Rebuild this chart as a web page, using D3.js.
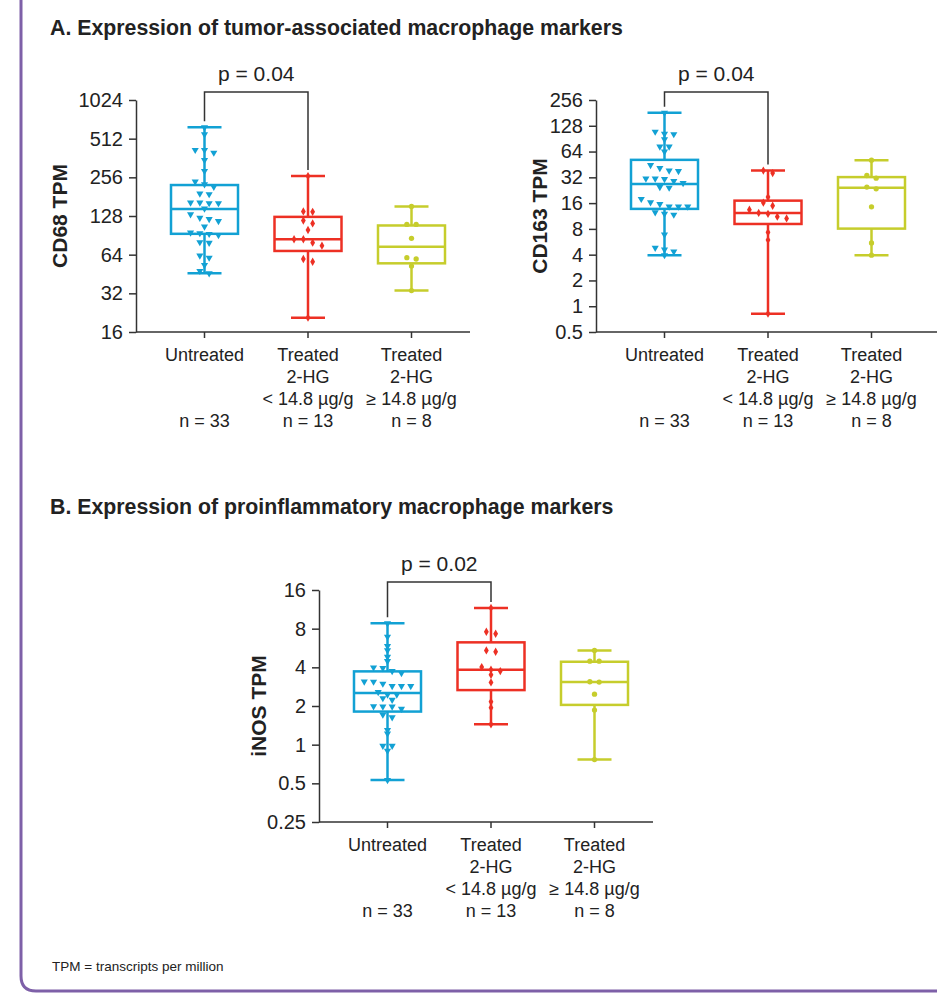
<!DOCTYPE html>
<html>
<head>
<meta charset="utf-8">
<script src="https://cdn.jsdelivr.net/npm/d3@7"></script>
<style>
  body { margin: 0; background: #fff; }
  svg text { font-family: "Liberation Sans", Arial, sans-serif; fill: #222; }
  .axis path, .axis line { stroke: #333; stroke-width: 1.5; }
  .axis text { font-size: 20px; fill: #222; }
</style>
</head>
<body>
<div id="chart"></div>
<script>
// Groups and their x labels
var groups = ["untreated", "low", "high"];
var groupLabels = [["Untreated"], ["Treated", "2-HG", "< 14.8 µg/g"], ["Treated", "2-HG", "≥ 14.8 µg/g"]];
var nLabels = ["n = 33", "n = 13", "n = 8"];
var groupColors = ["#12a1d4", "#ed3024", "#c6cd2c"];

// CD68 TPM
var cd68Untreated = [628, 554, 418, 418, 398, 349, 287, 237, 226, 216, 189, 191, 161, 163, 163, 161, 146,
  132, 117, 121, 124, 106, 92.7, 91, 94, 95, 80, 79, 62.9, 60.6, 53.2, 45.8, 47.8];
var cd68Low = [262, 139, 138, 118, 112, 99.6, 84.4, 84.4, 79.3, 75.2, 59.2, 56.4, 20.7];
var cd68High = [152, 110, 110, 85.8, 60.6, 59.2, 52.2, 33.6];
// [min, q1, median, q3, max]
var cd68Stats = [[45.8, 93, 145, 223, 628], [20.7, 68.4, 84.4, 126, 262], [33.6, 54.8, 73.8, 108, 152]];
var cd68Ticks = [16, 32, 64, 128, 256, 512, 1024];

// CD163 TPM
var cd163Untreated = [182, 102, 109, 103, 89, 73, 73, 64, 44.4, 41, 38.4, 37.8, 31, 30.5, 31, 28.9, 27.4,
  24.6, 24.2, 17.9, 15.6, 16.3, 14.6, 14.6, 14.6, 11.7, 12.0, 12.5, 6.86, 4.8, 4.59, 4.35, 3.94];
var cd163Low = [38.4, 35.9, 18.8, 16.2, 14.9, 13.4, 12.3, 12.0, 11.1, 10.6, 7.3, 5.94, 0.818];
var cd163High = [50.8, 33.6, 31.3, 24.6, 23.5, 14.5, 5.48, 3.94];
var cd163Stats = [[3.94, 13.7, 26.7, 51.2, 182], [0.818, 9.13, 12.3, 17.1, 38.4], [3.94, 8.06, 24.2, 32.2, 50.8]];
var cd163Ticks = [0.5, 1, 2, 4, 8, 16, 32, 64, 128, 256];

// iNOS TPM
var inosUntreated = [8.8, 6.92, 5.86, 5.42, 4.83, 4.47, 3.99, 3.74, 3.61, 3.95, 3.09, 2.98, 2.86, 2.86, 2.86,
  3.1, 2.57, 2.30, 2.45, 2.45, 2.23, 1.99, 1.90, 1.98, 1.98, 1.63, 1.71, 1.22, 1.30, 0.98, 0.98, 0.895, 0.53];
var inosLow = [11.6, 7.57, 7.30, 5.42, 5.29, 4.02, 3.83, 3.74, 3.50, 3.05, 2.16, 1.94, 1.44];
var inosHigh = [5.42, 4.47, 4.47, 3.09, 3.07, 2.47, 1.86, 0.766];
var inosStats = [[0.53, 1.81, 2.53, 3.72, 8.8], [1.44, 2.66, 3.83, 6.26, 11.6], [0.766, 2.04, 3.07, 4.42, 5.42]];
var inosTicks = [0.25, 0.5, 1, 2, 4, 8, 16];

var pValues = ["p = 0.04", "p = 0.04", "p = 0.02"];

// SVG area
var svgWidth = 937;
var svgHeight = 994;
var plotHeight = 232;

var svg = d3.select("#chart")
  .append("svg")
  .attr("width", svgWidth)
  .attr("height", svgHeight);

// purple frame on left and bottom
svg.append("path")
  .attr("d", "M21,0 V976 Q21,991 36,991 H" + (svgWidth + 5))
  .attr("fill", "none")
  .attr("stroke", "#7e60a8")
  .attr("stroke-width", 3);

// section titles
svg.append("text").attr("x", 50).attr("y", 35)
  .style("font-size", "21.3px").style("font-weight", "bold")
  .text("A. Expression of tumor-associated macrophage markers");
svg.append("text").attr("x", 50).attr("y", 514)
  .style("font-size", "21.3px").style("font-weight", "bold")
  .text("B. Expression of proinflammatory macrophage markers");

svg.append("text").attr("x", 52).attr("y", 971)
  .style("font-size", "13.5px")
  .text("TPM = transcripts per million");

var symbols = [
  d3.symbol(d3.symbolTriangle, 22),
  d3.symbol(d3.symbolDiamond, 20),
  d3.symbol(d3.symbolCircle, 22)
];

// spread points that sit at about the same height into a row
function dodge(values, y) {
  var pts = values.map(v => ({ v: v, py: y(v) })).sort((a, b) => a.py - b.py);
  var rows = [], cur = null;
  pts.forEach(function (p) {
    if (cur && p.py - cur[cur.length - 1].py < 3.5) cur.push(p);
    else { cur = [p]; rows.push(cur); }
  });
  rows.forEach(function (row) {
    row.forEach(function (p, i) { p.dx = (i - (row.length - 1) / 2) * 9.3; });
  });
  return pts;
}

function drawPlot(p) {
  var g = svg.append("g").attr("transform", `translate(${p.x}, ${p.y})`);

  var y = d3.scaleLog().base(2).domain(p.domain).range([plotHeight, 0]);
  var x = d3.scalePoint().domain(groups).range([68.5, 275.5]);

  // left axis
  var leftAxis = d3.axisLeft(y).tickValues(p.ticks).tickFormat(d => d)
    .tickSize(7).tickPadding(6).tickSizeOuter(0);
  g.append("g").attr("class", "axis").call(leftAxis);

  // bottom axis line and ticks
  g.append("line")
    .attr("x1", 0).attr("x2", p.axisLength)
    .attr("y1", plotHeight).attr("y2", plotHeight)
    .attr("stroke", "#333").attr("stroke-width", 1.5);
  g.selectAll(".xtick").data(groups).enter().append("line")
    .attr("x1", d => x(d)).attr("x2", d => x(d))
    .attr("y1", plotHeight).attr("y2", plotHeight + 6)
    .attr("stroke", "#333").attr("stroke-width", 1.5);

  // category labels
  groups.forEach(function (grp, i) {
    var t = g.append("text")
      .attr("x", x(grp)).attr("y", plotHeight + 29)
      .attr("text-anchor", "middle")
      .style("font-size", "18px");
    groupLabels[i].forEach(function (line, j) {
      t.append("tspan").attr("x", x(grp)).attr("dy", j === 0 ? 0 : 22).text(line);
    });
    g.append("text")
      .attr("x", x(grp)).attr("y", plotHeight + 29 + 66)
      .attr("text-anchor", "middle")
      .style("font-size", "18px")
      .text(nLabels[i]);
  });

  // y axis title
  g.append("text")
    .attr("transform", "rotate(-90)")
    .attr("x", -plotHeight / 2)
    .attr("y", -p.titleOffset)
    .attr("text-anchor", "middle")
    .style("font-size", "21px").style("font-weight", "bold")
    .text(p.title);

  // boxes
  groups.forEach(function (grp, i) {
    var s = p.stats[i];
    var cx = x(grp);
    var col = groupColors[i];
    var box = g.append("g").attr("stroke", col).attr("stroke-width", 2.5).attr("fill", "none");
    box.append("line").attr("x1", cx).attr("x2", cx).attr("y1", y(s[0])).attr("y2", y(s[1]));
    box.append("line").attr("x1", cx).attr("x2", cx).attr("y1", y(s[3])).attr("y2", y(s[4]));
    box.append("line").attr("x1", cx - 17).attr("x2", cx + 17).attr("y1", y(s[0])).attr("y2", y(s[0]));
    box.append("line").attr("x1", cx - 17).attr("x2", cx + 17).attr("y1", y(s[4])).attr("y2", y(s[4]));
    box.append("rect")
      .attr("x", cx - 33.5).attr("width", 67)
      .attr("y", y(s[3])).attr("height", y(s[1]) - y(s[3]));
    box.append("line").attr("x1", cx - 33.5).attr("x2", cx + 33.5).attr("y1", y(s[2])).attr("y2", y(s[2]));

    // individual samples
    g.selectAll(".pt" + i)
      .data(dodge(p.values[i], y))
      .enter()
      .append("path")
      .attr("d", symbols[i])
      .attr("fill", col)
      .attr("transform", d => `translate(${cx + d.dx}, ${d.py})` + (i === 0 ? " rotate(180)" : ""));
  });

  // significance bracket between first two groups
  var x0 = x(groups[0]), x1 = x(groups[1]);
  g.append("path")
    .attr("d", `M${x0},${y(p.stats[0][4]) - 6} V-8 H${x1} V${y(p.stats[1][4]) - 6}`)
    .attr("fill", "none").attr("stroke", "#333").attr("stroke-width", 1.5);
  g.append("text")
    .attr("x", (x0 + x1) / 2).attr("y", -19)
    .attr("text-anchor", "middle")
    .style("font-size", "21px")
    .text(p.pValue);
}

drawPlot({ x: 136, y: 100, axisLength: 334, domain: [16, 1024], ticks: cd68Ticks,
  stats: cd68Stats, values: [cd68Untreated, cd68Low, cd68High], title: "CD68 TPM", titleOffset: 69, pValue: pValues[0] });
drawPlot({ x: 596, y: 100, axisLength: 350, domain: [0.5, 256], ticks: cd163Ticks,
  stats: cd163Stats, values: [cd163Untreated, cd163Low, cd163High], title: "CD163 TPM", titleOffset: 49, pValue: pValues[1] });
drawPlot({ x: 319, y: 590, axisLength: 334, domain: [0.25, 16], ticks: inosTicks,
  stats: inosStats, values: [inosUntreated, inosLow, inosHigh], title: "iNOS TPM", titleOffset: 53, pValue: pValues[2] });
</script>
</body>
</html>
